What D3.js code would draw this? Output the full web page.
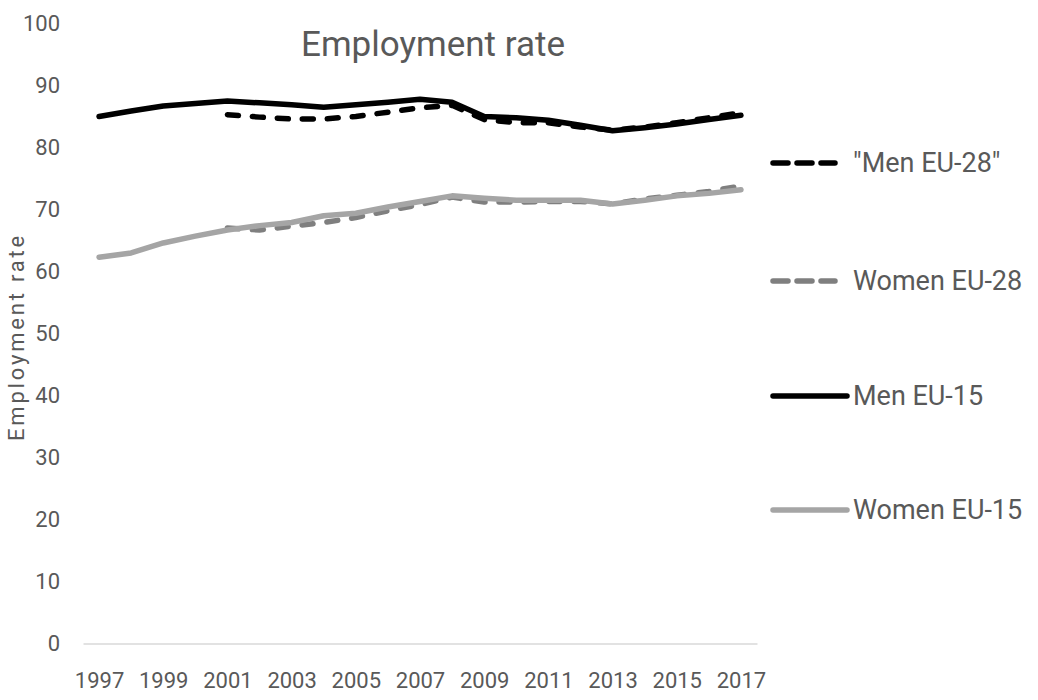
<!DOCTYPE html>
<html>
<head>
<meta charset="utf-8">
<script src="https://cdn.jsdelivr.net/npm/d3@7"></script>
<style>
  body { margin: 0; background: #fff; }
  text { font-family: Roboto, "Open Sans", sans-serif; fill: #595959; }
</style>
</head>
<body>
<div id="chart"></div>
<script>
// Set the width and height of the svg canvas
var w = 1038;
var h = 700;

// Years on the category axis
var years = d3.range(1997, 2018);
var tickYears = [1997, 1999, 2001, 2003, 2005, 2007, 2009, 2011, 2013, 2015, 2017];
var yTicks = [0, 10, 20, 30, 40, 50, 60, 70, 80, 90, 100];

// Series values
var menEU28 = [null, null, null, null, 85.3, 84.9, 84.6, 84.6, 85.0, 85.7, 86.4, 86.8,
               84.5, 84.0, 84.0, 83.3, 82.8, 83.3, 84.0, 84.8, 85.6];
var womenEU28 = [null, null, null, null, 67.0, 66.7, 67.3, 67.9, 68.7, 69.8, 70.8, 72.0,
                 71.2, 71.2, 71.3, 71.3, 70.9, 71.7, 72.3, 72.9, 73.8];
var menEU15 = [85.0, 85.9, 86.7, 87.1, 87.5, 87.2, 86.9, 86.5, 86.9, 87.3, 87.8, 87.3,
               85.0, 84.8, 84.4, 83.6, 82.7, 83.2, 83.8, 84.5, 85.2];
var womenEU15 = [62.3, 63.0, 64.6, 65.7, 66.7, 67.4, 67.9, 69.0, 69.4, 70.4, 71.3, 72.2,
                 71.8, 71.5, 71.5, 71.5, 70.9, 71.5, 72.2, 72.6, 73.2];

var seriesNames = ['"Men EU-28"', "Women EU-28", "Men EU-15", "Women EU-15"];
var seriesValues = [menEU28, womenEU28, menEU15, womenEU15];
var seriesColors = ["#000000", "#7f7f7f", "#000000", "#a5a5a5"];
var seriesDashed = [true, true, false, false];

var svg = d3.select("#chart")
  .append("svg")
  .attr("width", w)
  .attr("height", h);

var xScale = d3.scalePoint()
  .domain(years)
  .range([83, 757])
  .padding(0.5);

var yScale = d3.scaleLinear()
  .domain([0, 100])
  .range([643.5, 23.5]);

// Title
svg.append("text")
  .attr("x", 433)
  .attr("y", 56)
  .attr("text-anchor", "middle")
  .style("font-size", "35px")
  .text("Employment rate");

// x-axis
var xAxis = d3.axisBottom(xScale)
  .tickValues(tickYears)
  .tickSize(0)
  .tickPadding(29);

var gx = svg.append("g")
  .attr("transform", "translate(0," + yScale(0) + ")")
  .call(xAxis);
gx.select(".domain").attr("stroke", "#d9d9d9").attr("stroke-width", 1.5);
gx.selectAll("text").style("font-size", "22px").attr("fill", "#595959");

// y-axis (labels only)
var yAxis = d3.axisLeft(yScale)
  .tickValues(yTicks)
  .tickSize(0)
  .tickPadding(23);

var gy = svg.append("g")
  .attr("transform", "translate(83,0)")
  .call(yAxis);
gy.select(".domain").remove();
gy.selectAll("text").style("font-size", "22px").attr("fill", "#595959");

// y-axis title
svg.append("text")
  .attr("transform", "translate(24,337) rotate(-90)")
  .attr("text-anchor", "middle")
  .style("font-size", "22px")
  .style("letter-spacing", "2.8px")
  .text("Employment rate");

// Lines
var line = d3.line()
  .defined(function(d) { return d != null; })
  .x(function(d, i) { return xScale(years[i]); })
  .y(function(d) { return yScale(d); });

seriesValues.forEach(function(vals, i) {
  svg.append("path")
    .datum(vals)
    .attr("fill", "none")
    .attr("stroke", seriesColors[i])
    .attr("stroke-width", 5.5)
    .attr("stroke-linecap", "round")
    .attr("stroke-linejoin", "round")
    .attr("stroke-dasharray", seriesDashed[i] ? "11,14" : null)
    .attr("d", line);
});

// Legend
var legendY = [163, 281, 396, 510];
var legend = svg.selectAll("g.legend")
  .data(seriesNames)
  .join("g")
  .attr("class", "legend")
  .attr("transform", function(d, i) { return "translate(0," + legendY[i] + ")"; });

legend.append("line")
  .attr("x1", 773)
  .attr("x2", function(d, i) { return seriesDashed[i] ? 835 : 847; })
  .attr("y1", 0)
  .attr("y2", 0)
  .attr("stroke", function(d, i) { return seriesColors[i]; })
  .attr("stroke-width", 5.5)
  .attr("stroke-linecap", "round")
  .attr("stroke-dasharray", function(d, i) { return seriesDashed[i] ? "15,9" : null; });

legend.append("text")
  .attr("x", 853)
  .attr("y", 0)
  .attr("dy", "0.35em")
  .style("font-size", "27px")
  .text(function(d) { return d; });
</script>
</body>
</html>
